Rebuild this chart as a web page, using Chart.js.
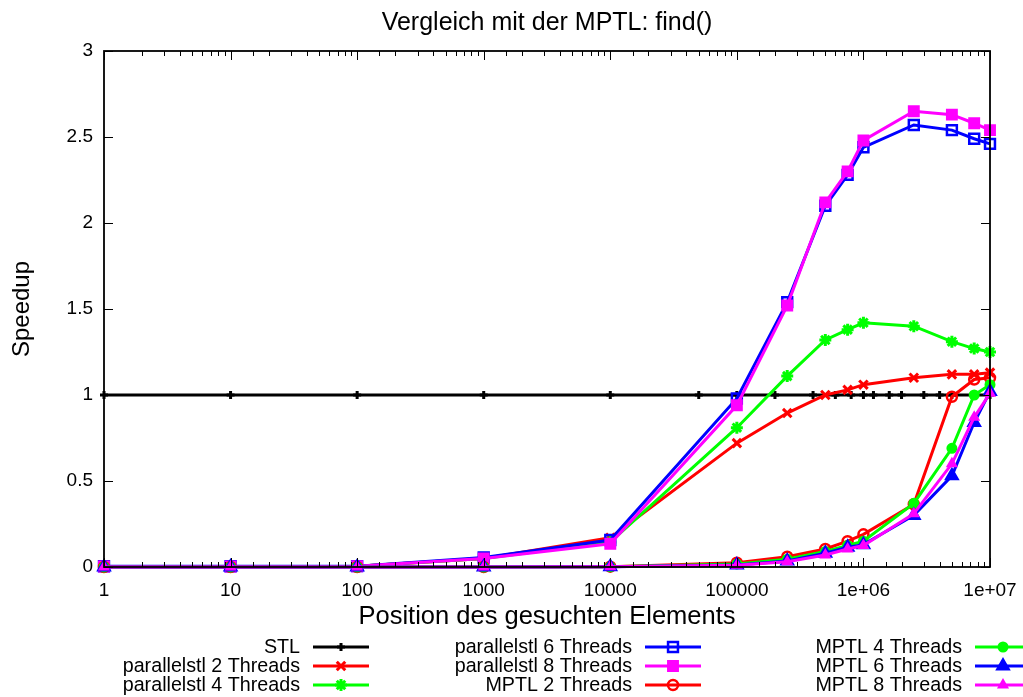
<!DOCTYPE html>
<html>
<head>
<meta charset="utf-8">
<title>Vergleich mit der MPTL: find()</title>
<script src="https://cdn.jsdelivr.net/npm/chart.js@4/dist/chart.umd.min.js"></script>
<style>
    html, body { margin: 0; padding: 0; background: #fff; }
    #wrap { width: 1023px; height: 697px; }
</style>
</head>
<body>
<div id="wrap"><canvas id="myChart" width="1023" height="697"></canvas></div>
<script>
// Positionen des gesuchten Elements
const stlPositions = [1, 10, 100, 1000, 10000, 50000, 100000, 200000, 400000, 600000, 800000, 1e6, 1.2e6, 1.6e6, 2e6, 3e6, 4e6, 5e6, 1e7]
const positions = [1, 10, 100, 1000, 10000, 100000, 250000, 500000, 750000, 1e6, 2.5e6, 5e6, 7.5e6, 1e7]

// Speedup-Werte
const stl = [1, 1, 1, 1, 1, 1, 1, 1, 1, 1, 1, 1, 1, 1, 1, 1, 1, 1, 1]
const pstl2 = [0.003, 0.003, 0.004, 0.05, 0.17, 0.72, 0.895, 1.0, 1.03, 1.06, 1.10, 1.12, 1.12, 1.13]
const pstl4 = [0.003, 0.003, 0.004, 0.05, 0.145, 0.81, 1.11, 1.32, 1.38, 1.42, 1.40, 1.31, 1.27, 1.25]
const pstl6 = [0.004, 0.004, 0.005, 0.055, 0.157, 0.98, 1.54, 2.10, 2.28, 2.44, 2.57, 2.54, 2.49, 2.46]
const pstl8 = [0.003, 0.003, 0.004, 0.05, 0.135, 0.94, 1.52, 2.12, 2.30, 2.48, 2.65, 2.63, 2.58, 2.54]
const mptl2 = [0, 0, 0, 0, 0.002, 0.025, 0.06, 0.105, 0.15, 0.19, 0.365, 0.99, 1.09, 1.10]
const mptl4 = [0, 0, 0, 0, 0.001, 0.018, 0.045, 0.09, 0.125, 0.15, 0.37, 0.69, 1.0, 1.06]
const mptl6 = [0, 0, 0, 0, 0.001, 0.012, 0.035, 0.08, 0.115, 0.13, 0.30, 0.53, 0.84, 1.02]
const mptl8 = [0, 0, 0, 0, 0.001, 0.01, 0.03, 0.07, 0.105, 0.125, 0.31, 0.60, 0.87, 1.01]

// Achsenbeschriftung
const xTickLabels = ['1', '10', '100', '1000', '10000', '100000', '1e+06', '1e+07']
const yTickLabels = ['0', '0.5', '1', '1.5', '2', '2.5', '3']

const FONT = "'Liberation Sans', Arial, Helvetica, sans-serif"

function pts(xs, ys) {
    return xs.map((x, i) => ({ x: x, y: ys[i] }))
}

function isDecade(v) {
    const lg = Math.log10(v)
    return Math.abs(lg - Math.round(lg)) < 1e-9
}

// gnuplot-artige Linien: Farbe, Punkt-Symbol
function series(label, xs, ys, color, style, radius, opts) {
    return Object.assign({
        label: label,
        data: pts(xs, ys),
        borderColor: color,
        backgroundColor: color,
        borderWidth: 3,
        pointStyle: style,
        pointRadius: radius,
        pointBorderColor: color,
        pointBackgroundColor: color,
        pointBorderWidth: 2,
        pointHoverRadius: radius,
        tension: 0,
        clip: false,
    }, opts || {})
}

const datasets = [
    series('STL', stlPositions, stl, '#000000', 'cross', 4, { pointBorderWidth: 3 }),
    series('parallelstl 2 Threads', positions, pstl2, '#ff0000', 'crossRot', 6, { pointBorderWidth: 3 }),
    series('parallelstl 4 Threads', positions, pstl4, '#00ff00', 'star', 6, { pointBorderWidth: 3 }),
    series('parallelstl 6 Threads', positions, pstl6, '#0000ff', 'rect', 7, { pointBackgroundColor: 'rgba(0,0,0,0)', pointBorderWidth: 2.5 }),
    series('parallelstl 8 Threads', positions, pstl8, '#ff00ff', 'rect', 7),
    series('MPTL 2 Threads', positions, mptl2, '#ff0000', 'circle', 5, { pointBackgroundColor: 'rgba(0,0,0,0)', pointBorderWidth: 2.5 }),
    series('MPTL 4 Threads', positions, mptl4, '#00ff00', 'circle', 4.5),
    series('MPTL 6 Threads', positions, mptl6, '#0000ff', 'triangle', 7),
    series('MPTL 8 Threads', positions, mptl8, '#ff00ff', 'triangle', 5),
]
// spätere Kurven liegen oben
datasets.forEach((d, i) => { d.order = datasets.length - i })

// Rahmen mit Ticks nach innen
const frame = {
    id: 'frame',
    afterDatasetsDraw(chart) {
        const { ctx, chartArea: a, scales: { x, y } } = chart
        ctx.save()
        ctx.strokeStyle = '#000'
        ctx.lineWidth = 1.8
        ctx.strokeRect(a.left, a.top, a.right - a.left, a.bottom - a.top)
        ctx.lineWidth = 1
        ctx.beginPath()
        x.ticks.forEach(t => {
            const px = Math.round(x.getPixelForValue(t.value)) + 0.5
            const len = isDecade(t.value) ? 9 : 5
            ctx.moveTo(px, a.bottom)
            ctx.lineTo(px, a.bottom - len)
            ctx.moveTo(px, a.top)
            ctx.lineTo(px, a.top + len)
        })
        y.ticks.forEach(t => {
            const py = Math.round(y.getPixelForValue(t.value)) + 0.5
            ctx.moveTo(a.left, py)
            ctx.lineTo(a.left + 9, py)
            ctx.moveTo(a.right, py)
            ctx.lineTo(a.right - 9, py)
        })
        ctx.stroke()
        ctx.restore()
    }
}

// Legende unten in drei Spalten, Text rechtsbündig vor dem Linienmuster
const keyBox = {
    id: 'keyBox',
    afterDraw(chart) {
        const ctx = chart.ctx
        const cols = [300, 632, 962]
        ctx.save()
        ctx.font = '19.7px ' + FONT
        ctx.textAlign = 'right'
        ctx.textBaseline = 'middle'
        chart.data.datasets.forEach((d, i) => {
            const cx = cols[Math.floor(i / 3)]
            const cy = 647 + (i % 3) * 19
            ctx.fillStyle = '#000'
            ctx.fillText(d.label, cx, cy + 1)
            ctx.strokeStyle = d.borderColor
            ctx.lineWidth = d.borderWidth
            ctx.beginPath()
            ctx.moveTo(cx + 13, cy)
            ctx.lineTo(cx + 69, cy)
            ctx.stroke()
            ctx.fillStyle = d.pointBackgroundColor
            ctx.strokeStyle = d.pointBorderColor
            ctx.lineWidth = d.pointBorderWidth
            Chart.helpers.drawPoint(ctx, {
                pointStyle: d.pointStyle,
                radius: d.pointRadius,
                rotation: 0,
                borderWidth: d.pointBorderWidth,
            }, cx + 41, cy)
        })
        ctx.restore()
    }
}

Chart.defaults.color = '#000'
Chart.defaults.font.family = FONT

const ctx = document.getElementById('myChart').getContext('2d')
const myChart = new Chart(ctx, {
    type: 'line',
    data: { datasets: datasets },
    options: {
        responsive: false,
        animation: false,
        events: [],
        layout: {
            padding: { left: 0, right: 33, top: 0, bottom: 65 },
        },
        plugins: {
            legend: { display: false },
            tooltip: { enabled: false },
        },
        scales: {
            x: {
                type: 'logarithmic',
                min: 1,
                max: 1e7,
                grid: { display: false, drawTicks: false },
                border: { display: false },
                ticks: {
                    autoSkip: false,
                    maxRotation: 0,
                    padding: 12,
                    font: { size: 19 },
                    callback: function (value) {
                        return isDecade(value) ? xTickLabels[Math.round(Math.log10(value))] : ''
                    },
                },
                title: {
                    display: true,
                    text: 'Position des gesuchten Elements',
                    font: { size: 25.5 },
                    padding: { top: 0, bottom: 0 },
                },
                afterFit: function (scale) {
                    scale.height = 65
                    scale.paddingLeft = 0
                    scale.paddingRight = 0
                },
            },
            // obere Achse nur für den Diagrammtitel (über der Plotfläche zentriert)
            top: {
                type: 'linear',
                position: 'top',
                min: 0,
                max: 1,
                grid: { display: false, drawTicks: false },
                border: { display: false },
                ticks: { display: false },
                title: {
                    display: true,
                    text: 'Vergleich mit der MPTL: find()',
                    font: { size: 25 },
                    padding: { top: 8, bottom: 0 },
                },
                afterFit: function (scale) {
                    scale.height = 51
                    scale.paddingLeft = 0
                    scale.paddingRight = 0
                },
            },
            y: {
                min: 0,
                max: 3,
                grid: { display: false, drawTicks: false },
                border: { display: false },
                ticks: {
                    stepSize: 0.5,
                    padding: 11,
                    font: { size: 19 },
                    callback: function (value) {
                        return yTickLabels[Math.round(value * 2)]
                    },
                },
                title: {
                    display: true,
                    text: 'Speedup',
                    font: { size: 24 },
                    padding: { top: 8, bottom: 0 },
                },
                afterFit: function (scale) {
                    scale.width = 104
                    scale.paddingTop = 0
                    scale.paddingBottom = 0
                },
            },
        },
    },
    plugins: [frame, keyBox],
})
</script>
</body>
</html>
